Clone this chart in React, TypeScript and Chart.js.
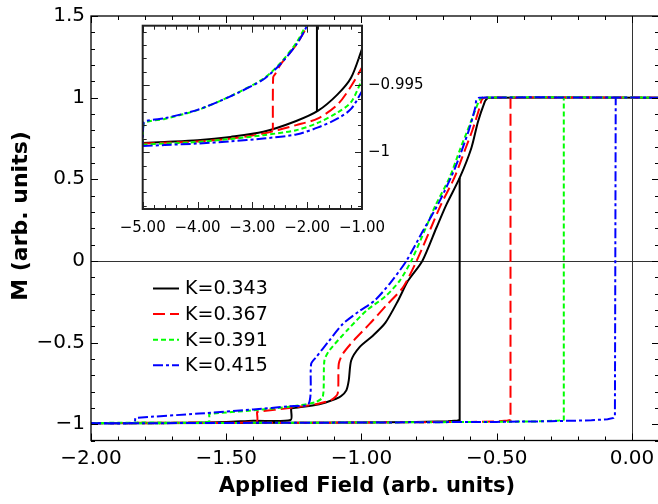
import React, { useEffect, useRef } from "react";
import { Chart, registerables } from "chart.js";

Chart.register(...registerables);

// ---------- series meta ----------
const SERIES_LABELS = ["K=0.343", "K=0.367", "K=0.391", "K=0.415"];
const SERIES_COLORS = ["#000000", "#ff0000", "#00ff00", "#0000ff"];
const SERIES_DASHES: number[][] = [[], [12, 5], [5, 3], [10, 3, 3, 3]];

// ---------- main plot: descending branch (from +saturation going left) ----------
const K343_DESC_F = [0.1, -0.53, -0.538, -0.544, -0.569, -0.594, -0.637, -0.686, -0.723, -0.775, -0.828, -0.865, -0.912, -0.957, -1.007, -1.038, -1.047, -1.056, -1.075, -1.094, -1.156, -1.256, -1.26, -1.262, -1.4, -1.5, -1.65, -2.0];
const K343_DESC_M = [1, 1, 0.99, 0.976, 0.854, 0.69, 0.508, 0.345, 0.203, 0, -0.122, -0.244, -0.38, -0.457, -0.528, -0.61, -0.732, -0.793, -0.828, -0.844, -0.878, -0.903, -0.905, -0.974, -0.979, -0.987, -0.991, -0.993];

const K367_DESC_F = [0.1, -0.545, -0.556, -0.565, -0.59, -0.615, -0.657, -0.706, -0.743, -0.796, -0.847, -0.909, -0.97, -1.03, -1.069, -1.084, -1.088, -1.11, -1.16, -1.26, -1.382, -1.386, -1.388, -1.6, -2.0];
const K367_DESC_M = [1, 1, 0.985, 0.93, 0.8, 0.69, 0.508, 0.345, 0.203, 0, -0.163, -0.274, -0.386, -0.49, -0.569, -0.63, -0.813, -0.85, -0.875, -0.9, -0.924, -0.926, -0.984, -0.99, -0.993];

const K391_DESC_F = [0.1, -0.555, -0.565, -0.58, -0.61, -0.634, -0.675, -0.725, -0.762, -0.816, -0.859, -0.91, -0.982, -1.05, -1.119, -1.137, -1.143, -1.17, -1.25, -1.4, -1.56, -1.563, -1.565, -1.8, -2.0];
const K391_DESC_M = [1, 1, 0.98, 0.92, 0.79, 0.69, 0.508, 0.345, 0.203, 0, -0.122, -0.215, -0.305, -0.42, -0.549, -0.61, -0.833, -0.865, -0.89, -0.915, -0.936, -0.938, -0.985, -0.99, -0.993];

const K415_DESC_F = [0.1, -0.565, -0.575, -0.58, -0.605, -0.654, -0.711, -0.773, -0.834, -0.896, -0.952, -1.01, -1.069, -1.12, -1.168, -1.186, -1.195, -1.267, -1.4, -1.6, -1.832, -1.836, -1.84, -2.0];
const K415_DESC_M = [1, 1, 0.985, 0.935, 0.79, 0.569, 0.366, 0.183, 0, -0.14, -0.244, -0.31, -0.386, -0.49, -0.59, -0.63, -0.874, -0.89, -0.91, -0.935, -0.961, -0.963, -0.992, -0.994];

// ---------- main plot: ascending branch (from -saturation going right) ----------
const K343_ASC_F = [-2.0, -1.5, -1.0, -0.8, -0.68, -0.645, -0.637, -0.637];
const K343_ASC_M = [-0.995, -0.993, -0.99, -0.987, -0.982, -0.978, -0.975, 0.508];

const K367_ASC_F = [-2.0, -1.0, -0.6, -0.5, -0.46, -0.449, -0.449];
const K367_ASC_M = [-0.995, -0.99, -0.986, -0.983, -0.978, -0.975, 1];

const K391_ASC_F = [-2.0, -1.0, -0.5, -0.35, -0.27, -0.252, -0.252];
const K391_ASC_M = [-0.995, -0.99, -0.986, -0.983, -0.978, -0.972, 1];

const K415_ASC_F = [-2.0, -1.0, -0.5, -0.3, -0.15, -0.09, -0.068, -0.063, -0.06];
const K415_ASC_M = [-0.995, -0.99, -0.986, -0.982, -0.976, -0.97, -0.962, -0.95, 1];

// ---------- inset: lower branch near -1 ----------
const INSET_LOW_F = [-5.0, -4.6, -4.0, -3.4, -2.8, -2.2, -1.8, -1.45, -1.2, -1.0];
const K343_INSET_LOW_M = [-0.99932, -0.99924, -0.99911, -0.99886, -0.99848, -0.99767, -0.9969, -0.9957, -0.99444, -0.9923];
const K367_INSET_LOW_M = [-0.99936, -0.9993, -0.9992, -0.99899, -0.99861, -0.99798, -0.99747, -0.99646, -0.99508, -0.99368];
const K391_INSET_LOW_M = [-0.99944, -0.99936, -0.99924, -0.99902, -0.99873, -0.99836, -0.9978, -0.99705, -0.99626, -0.99457];
const K415_INSET_LOW_M = [-0.99955, -0.99947, -0.99936, -0.9992, -0.99898, -0.99868, -0.99815, -0.9975, -0.99677, -0.99545];

// ---------- inset: upper (descending) branch ----------
const K343_INSET_UP_F = [-1.822, -1.822];
const K343_INSET_UP_M = [-0.989, -0.99692];
const K367_INSET_UP_F = [-1.96, -2.0, -2.19, -2.49, -2.58, -2.62, -2.626];
const K367_INSET_UP_M = [-0.9897, -0.99053, -0.99192, -0.99348, -0.99415, -0.9944, -0.99836];
const K391_INSET_UP_F = [-1.98, -2.03, -2.19, -2.49, -2.8, -3.4, -4.0, -4.6, -4.98, -5.0];
const K391_INSET_UP_M = [-0.9897, -0.99053, -0.99178, -0.99335, -0.99452, -0.99582, -0.99686, -0.99752, -0.99786, -0.99944];
const K415_INSET_UP_F = [-1.95, -2.0, -2.19, -2.49, -2.8, -3.4, -4.0, -4.6, -4.98, -5.0];
const K415_INSET_UP_M = [-0.9897, -0.99053, -0.99192, -0.99343, -0.99457, -0.99583, -0.99684, -0.99747, -0.99779, -0.99955];

// ---------- ticks ----------
const MAIN_X_TICKS = [-2, -1.5, -1, -0.5, 0];
const MAIN_Y_TICKS = [-1, -0.5, 0, 0.5, 1, 1.5];
const INSET_X_TICKS = [-5, -4, -3, -2, -1];
const INSET_Y_TICKS = [-1, -0.995];

const X_TITLE = "Applied Field (arb. units)";
const Y_TITLE = "M (arb. units)";

const FONT = "'DejaVu Sans', 'Liberation Sans', sans-serif";

const zip = (xs: number[], ys: number[]) => xs.map((x, i) => ({ x, y: ys[i] }));
const minus = (s: string) => s.replace("-", "\u2212");

function lineDs(data: { x: number; y: number }[], i: number, label: string, tension: number) {
  return {
    label,
    data,
    showLine: true,
    borderColor: SERIES_COLORS[i],
    backgroundColor: SERIES_COLORS[i],
    borderWidth: 2,
    borderDash: SERIES_DASHES[i],
    pointRadius: 0,
    tension,
    fill: false,
  };
}

function framePlugin(cfg: {
  xMinor: number; xMajor: number; yMinor: number; yMajor: number;
  majorLen: number; minorLen: number; spineWidth: number; color: string; fillWhite?: boolean;
}) {
  return {
    id: "frame",
    beforeDatasetsDraw(chart: any) {
      if (!cfg.fillWhite) return;
      const { ctx, chartArea: a } = chart;
      ctx.save();
      ctx.fillStyle = "#ffffff";
      ctx.fillRect(a.left, a.top, a.right - a.left, a.bottom - a.top);
      ctx.restore();
    },
    afterDatasetsDraw(chart: any) {
      const { ctx, chartArea: a } = chart;
      const xs = chart.scales.x, ys = chart.scales.y;
      ctx.save();
      ctx.strokeStyle = cfg.color;
      ctx.lineWidth = 1;
      ctx.setLineDash([]);
      const seg = (x1: number, y1: number, x2: number, y2: number) => {
        ctx.beginPath(); ctx.moveTo(x1, y1); ctx.lineTo(x2, y2); ctx.stroke();
      };
      const isMajor = (v: number, m: number) => Math.abs(v / m - Math.round(v / m)) < 1e-6;
      let i0 = Math.ceil(xs.min / cfg.xMinor - 1e-6), i1 = Math.floor(xs.max / cfg.xMinor + 1e-6);
      for (let i = i0; i <= i1; i++) {
        const v = i * cfg.xMinor;
        const len = isMajor(v, cfg.xMajor) ? cfg.majorLen : cfg.minorLen;
        const p = Math.round(xs.getPixelForValue(v)) + 0.5;
        seg(p, a.bottom, p, a.bottom - len);
        seg(p, a.top, p, a.top + len);
      }
      i0 = Math.ceil(ys.min / cfg.yMinor - 1e-6); i1 = Math.floor(ys.max / cfg.yMinor + 1e-6);
      for (let i = i0; i <= i1; i++) {
        const v = i * cfg.yMinor;
        const len = isMajor(v, cfg.yMajor) ? cfg.majorLen : cfg.minorLen;
        const p = Math.round(ys.getPixelForValue(v)) + 0.5;
        seg(a.left, p, a.left + len, p);
        seg(a.right, p, a.right - len, p);
      }
      ctx.lineWidth = cfg.spineWidth;
      ctx.strokeRect(a.left, a.top, a.right - a.left, a.bottom - a.top);
      ctx.restore();
    },
  };
}

const zeroLinesPlugin = {
  id: "zeroLines",
  beforeDatasetsDraw(chart: any) {
    const { ctx, chartArea: a } = chart;
    const px = Math.round(chart.scales.x.getPixelForValue(0)) + 0.5;
    const py = Math.round(chart.scales.y.getPixelForValue(0)) + 0.5;
    ctx.save();
    ctx.strokeStyle = "#333333";
    ctx.lineWidth = 1;
    ctx.beginPath(); ctx.moveTo(a.left, py); ctx.lineTo(a.right, py); ctx.stroke();
    ctx.beginPath(); ctx.moveTo(px, a.top); ctx.lineTo(px, a.bottom); ctx.stroke();
    ctx.restore();
  },
};

const legendPlugin = {
  id: "customLegend",
  afterDatasetsDraw(chart: any) {
    const { ctx } = chart;
    ctx.save();
    ctx.font = `19px ${FONT}`;
    ctx.textBaseline = "middle";
    ctx.fillStyle = "#000";
    SERIES_LABELS.forEach((lab, i) => {
      const y = 288.5 + i * 25.6;
      ctx.strokeStyle = SERIES_COLORS[i];
      ctx.lineWidth = 2;
      ctx.setLineDash(SERIES_DASHES[i]);
      ctx.beginPath(); ctx.moveTo(153, y); ctx.lineTo(179, y); ctx.stroke();
      ctx.setLineDash([]);
      ctx.fillText(lab, 185, y + 1);
    });
    ctx.restore();
  },
};

const titlesPlugin = {
  id: "titles",
  afterDraw(chart: any) {
    const { ctx } = chart;
    ctx.save();
    ctx.fillStyle = "#000";
    ctx.textAlign = "center";
    ctx.textBaseline = "middle";
    ctx.font = `bold 21px ${FONT}`;
    ctx.fillText(X_TITLE, 367, 487);
    ctx.font = `bold 22px ${FONT}`;
    ctx.translate(21, 216);
    ctx.rotate(-Math.PI / 2);
    ctx.fillText(Y_TITLE, 0, 0);
    ctx.restore();
  },
};

export default function App() {
  const mainRef = useRef<HTMLCanvasElement>(null);
  const insetRef = useRef<HTMLCanvasElement>(null);

  useEffect(() => {
    const mainDesc = [
      zip(K343_DESC_F, K343_DESC_M), zip(K367_DESC_F, K367_DESC_M),
      zip(K391_DESC_F, K391_DESC_M), zip(K415_DESC_F, K415_DESC_M),
    ];
    const mainAsc = [
      zip(K343_ASC_F, K343_ASC_M), zip(K367_ASC_F, K367_ASC_M),
      zip(K391_ASC_F, K391_ASC_M), zip(K415_ASC_F, K415_ASC_M),
    ];
    const mainDatasets: any[] = [];
    for (let i = 3; i >= 0; i--) {
      mainDatasets.push(lineDs(mainDesc[i], i, SERIES_LABELS[i], 0.25));
      mainDatasets.push(lineDs(mainAsc[i], i, "", 0));
    }

    const main = new Chart(mainRef.current as HTMLCanvasElement, {
      type: "scatter",
      data: { datasets: mainDatasets },
      options: {
        responsive: false,
        animation: false,
        events: [],
        layout: { padding: { left: 0, top: 13.5, right: 21, bottom: 0 } },
        plugins: { legend: { display: false }, tooltip: { enabled: false } },
        scales: {
          x: {
            type: "linear", min: -2, max: 0.1,
            grid: { display: false, drawTicks: false }, border: { display: false },
            afterBuildTicks: (s: any) => { s.ticks = MAIN_X_TICKS.map((v) => ({ value: v })); },
            afterFit: (s: any) => { s.height = 63.5; },
            ticks: {
              autoSkip: false, maxRotation: 0, padding: 8, color: "#000",
              font: { family: FONT, size: 20, lineHeight: 1 },
              callback: (v: any) => minus(Number(v).toFixed(2)),
            },
          },
          y: {
            type: "linear", min: -1.1, max: 1.5,
            grid: { display: false, drawTicks: false }, border: { display: false },
            afterBuildTicks: (s: any) => { s.ticks = MAIN_Y_TICKS.map((v) => ({ value: v })); },
            afterFit: (s: any) => { s.width = 91; },
            ticks: {
              autoSkip: false, padding: 6, color: "#000",
              font: { family: FONT, size: 20, lineHeight: 1 },
              callback: (v: any) => minus(String(Number(v))),
            },
          },
        },
      } as any,
      plugins: [
        zeroLinesPlugin,
        framePlugin({ xMinor: 0.1, xMajor: 0.5, yMinor: 0.1, yMajor: 0.5, majorLen: 7, minorLen: 4, spineWidth: 1.3, color: "#000" }),
        legendPlugin,
        titlesPlugin,
      ],
    });

    const insetLow = [K343_INSET_LOW_M, K367_INSET_LOW_M, K391_INSET_LOW_M, K415_INSET_LOW_M].map((m) => zip(INSET_LOW_F, m));
    const insetUp = [
      zip(K343_INSET_UP_F, K343_INSET_UP_M), zip(K367_INSET_UP_F, K367_INSET_UP_M),
      zip(K391_INSET_UP_F, K391_INSET_UP_M), zip(K415_INSET_UP_F, K415_INSET_UP_M),
    ];
    const insetDatasets: any[] = [];
    for (let i = 3; i >= 0; i--) {
      insetDatasets.push(lineDs(insetLow[i], i, SERIES_LABELS[i], 0.3));
      insetDatasets.push(lineDs(insetUp[i], i, "", 0.25));
    }

    const inset = new Chart(insetRef.current as HTMLCanvasElement, {
      type: "scatter",
      data: { datasets: insetDatasets },
      options: {
        responsive: false,
        animation: false,
        events: [],
        layout: { padding: { left: 42.7, top: 15.7, right: 0, bottom: 0 } },
        plugins: { legend: { display: false }, tooltip: { enabled: false } },
        scales: {
          x: {
            type: "linear", min: -5, max: -1,
            grid: { display: false, drawTicks: false }, border: { display: false },
            afterBuildTicks: (s: any) => { s.ticks = INSET_X_TICKS.map((v) => ({ value: v })); },
            afterFit: (s: any) => { s.height = 41; },
            ticks: {
              autoSkip: false, maxRotation: 0, padding: 12, color: "#000",
              font: { family: FONT, size: 15, lineHeight: 1 },
              callback: (v: any) => minus(Number(v).toFixed(2)),
            },
          },
          y: {
            type: "linear", position: "right", min: -1.00425, max: -0.99055,
            grid: { display: false, drawTicks: false }, border: { display: false },
            afterBuildTicks: (s: any) => { s.ticks = INSET_Y_TICKS.map((v) => ({ value: v })); },
            afterFit: (s: any) => { s.width = 68; },
            ticks: {
              autoSkip: false, padding: 6, color: "#000",
              font: { family: FONT, size: 15, lineHeight: 1 },
              callback: (v: any) => minus(String(Number(v))),
            },
          },
        },
      } as any,
      plugins: [
        framePlugin({ xMinor: 0.2, xMajor: 1, yMinor: 0.001, yMajor: 0.005, majorLen: 7, minorLen: 4, spineWidth: 2, color: "#222", fillWhite: true }),
      ],
    });

    return () => { main.destroy(); inset.destroy(); };
  }, []);

  return (
    <div style={{ position: "fixed", left: 0, top: 0, width: 658, height: 504, overflow: "hidden", background: "#fff" }}>
      <canvas ref={mainRef} width={680} height={504} style={{ position: "absolute", left: 0, top: 0 }} />
      <canvas ref={insetRef} width={330} height={240} style={{ position: "absolute", left: 100, top: 10 }} />
    </div>
  );
}
